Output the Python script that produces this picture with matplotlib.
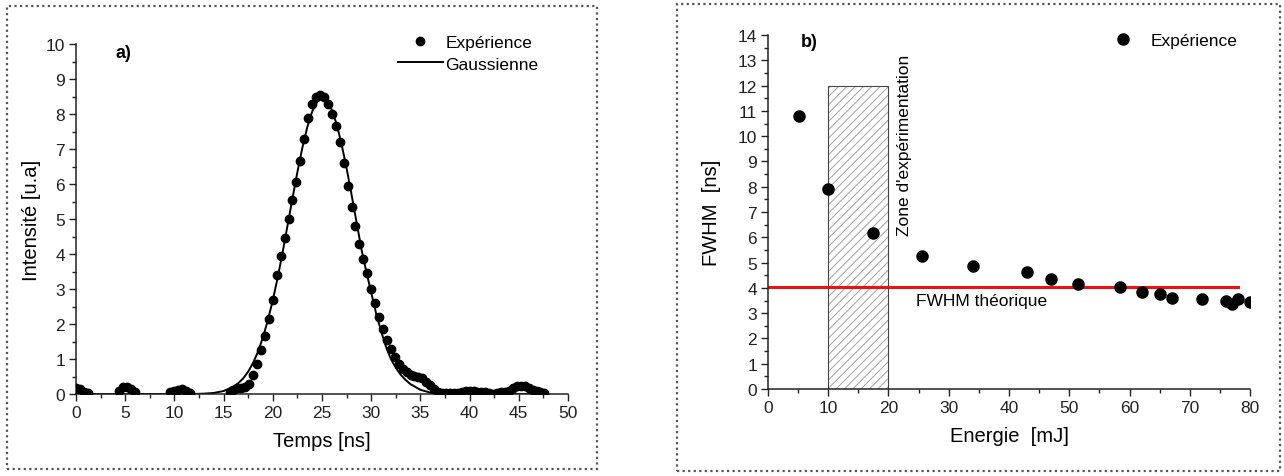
import numpy as np
import matplotlib
matplotlib.use("Agg")
import matplotlib.pyplot as plt
from matplotlib.patches import Rectangle

plt.rcParams['font.family'] = ['Liberation Sans', 'DejaVu Sans']
plt.rcParams['hatch.linewidth'] = 0.7

# --- panel a) : pulse shape ---
t_exp = [0.0, 0.4, 0.8, 1.2,
         4.4, 4.8, 5.2, 5.6, 6.0,
         9.6, 10.0, 10.4, 10.8, 11.2, 11.6,
         15.6, 16.0, 16.4, 16.8, 17.2, 17.6, 18.0, 18.4, 18.8, 19.2, 19.6,
         20.0, 20.4, 20.8, 21.2, 21.6, 22.0, 22.4, 22.8, 23.2, 23.6,
         24.0, 24.4, 24.8, 25.2, 25.6, 26.0, 26.4, 26.8, 27.2, 27.6,
         28.0, 28.4, 28.8, 29.2, 29.6, 30.0, 30.4, 30.8, 31.2, 31.6,
         32.0, 32.4, 32.8, 33.2, 33.6, 34.0, 34.4, 34.8, 35.2, 35.6,
         36.0, 36.4, 36.8, 37.2, 37.6, 38.0, 38.4, 38.8, 39.2, 39.6,
         40.0, 40.4, 40.8, 41.2, 41.6, 42.0, 42.4, 42.8, 43.2, 43.6,
         44.0, 44.4, 44.8, 45.2, 45.6, 46.0, 46.4, 46.8, 47.2, 47.6]
i_exp = [0.18, 0.15, 0.07, 0.02,
         0.1, 0.2, 0.2, 0.15, 0.07,
         0.05, 0.1, 0.12, 0.13, 0.08, 0.02,
         0.05, 0.12, 0.17, 0.18, 0.2, 0.3, 0.55, 0.85, 1.25, 1.65, 2.15,
         2.7, 3.4, 3.95, 4.45, 5.0, 5.55, 6.05, 6.65, 7.3, 7.9,
         8.3, 8.5, 8.55, 8.5, 8.3, 8.0, 7.65, 7.2, 6.6, 5.95,
         5.35, 4.8, 4.3, 3.85, 3.45, 3.0, 2.6, 2.2, 1.85, 1.55,
         1.3, 1.05, 0.85, 0.72, 0.62, 0.55, 0.52, 0.5, 0.45, 0.35,
         0.25, 0.15, 0.07, 0.03, 0.02, 0.02, 0.03, 0.03, 0.05, 0.08,
         0.1, 0.08, 0.05, 0.06, 0.05, 0.03, 0.01, 0.04, 0.05, 0.05,
         0.1, 0.18, 0.23, 0.24, 0.22, 0.17, 0.12, 0.1, 0.06, 0.04]

t_fit = [0, 12, 13, 14, 15, 16, 16.5, 17, 17.5, 18, 18.5, 19, 19.5,
         20, 20.5, 21, 21.5, 22, 22.5, 23, 23.5, 24, 24.5, 25,
         25.5, 26, 26.5, 27, 27.5, 28, 28.5, 29, 29.5, 30, 30.5,
         31, 31.5, 32, 32.5, 33, 33.5, 34, 35, 36, 37, 48]
i_fit = [0, 0, 0.01, 0.03, 0.085, 0.21, 0.31, 0.45, 0.64, 0.89, 1.21, 1.62, 2.11,
         2.68, 3.33, 4.05, 4.82, 5.59, 6.34, 7.03, 7.62, 8.07, 8.35, 8.45,
         8.38, 8.12, 7.7, 7.12, 6.45, 5.7, 4.93, 4.15, 3.5, 2.9, 2.3,
         1.8, 1.35, 1.0, 0.75, 0.55, 0.4, 0.28, 0.12, 0.04, 0.01, 0]

# --- panel b) : FWHM vs energy ---
energie = [5.2, 10.0, 17.5, 25.5, 34.0, 43.0, 47.0, 51.5, 58.5,
           62.0, 65.0, 67.0, 72.0, 76.0, 77.0, 78.0, 80.0]
fwhm = [10.8, 7.9, 6.15, 5.27, 4.85, 4.62, 4.35, 4.15, 4.02,
        3.82, 3.75, 3.6, 3.57, 3.5, 3.35, 3.55, 3.45]
fwhm_theo = 4.05
zone = (10, 20, 12)

fig = plt.figure(figsize=(12.84, 4.77), dpi=100)

# dotted frames around each panel
for (x0, y0, x1, y1) in [(7, 7, 597, 470), (677, 5, 1280, 472)]:
    fig.patches.append(Rectangle((x0 / 1284, 1 - y1 / 477), (x1 - x0) / 1284, (y1 - y0) / 477,
                                 transform=fig.transFigure, fill=False, ls=(0, (1, 1.5)),
                                 lw=1.6, ec='#555555'))


def style(ax):
    ax.spines['top'].set_visible(False)
    ax.spines['right'].set_visible(False)
    for s in ('left', 'bottom'):
        ax.spines[s].set_linewidth(1.1)
        ax.spines[s].set_color('#222222')
    ax.tick_params(direction='out', which='major', length=5, width=1.0, labelsize=12.5, pad=3,
                   colors='#222222')
    ax.tick_params(direction='out', which='minor', length=3, width=1.0, colors='#222222')


ax1 = fig.add_axes([76 / 1284, 82 / 477, 492 / 1284, 350 / 477])
ax1.plot(t_fit, i_fit, color='black', lw=1.4, label='Gaussienne', zorder=2)
ax1.plot(t_exp, i_exp, 'o', color='black', ms=6, label='Expérience', zorder=3, clip_on=True)
ax1.set_xlim(0, 50)
ax1.set_ylim(0, 10)
ax1.set_xticks(np.arange(0, 51, 5))
ax1.set_xticks(np.arange(0, 50, 2.5), minor=True)
ax1.set_yticks(np.arange(0, 11, 1))
ax1.set_yticks(np.arange(0, 10, 0.5), minor=True)
style(ax1)
ax1.set_xlabel('Temps [ns]', fontsize=14.5, labelpad=8)
ax1.set_ylabel('Intensité [u.a]', fontsize=14.5, labelpad=3)
ax1.text(4.0, 9.75, 'a)', fontsize=13, fontweight='bold', va='center')
h, l = ax1.get_legend_handles_labels()
ax1.legend([h[1], h[0]], [l[1], l[0]], loc='upper right', bbox_to_anchor=(0.965, 1.06),
           frameon=False, fontsize=12.5, handlelength=2.6, handletextpad=0.15,
           labelspacing=0.35, borderpad=0.2)

ax2 = fig.add_axes([768 / 1284, 87 / 477, 482 / 1284, 354 / 477])
ax2.add_patch(Rectangle((zone[0], 0), zone[1] - zone[0], zone[2], fill=False,
                        hatch='////', ec='#a0a0a0', lw=0, zorder=1))
ax2.add_patch(Rectangle((zone[0], 0), zone[1] - zone[0], zone[2], fill=False,
                        ec='#444444', lw=0.8, zorder=1))
ax2.plot([0, 78], [fwhm_theo, fwhm_theo], color='#ee1111', lw=2.2, zorder=2)
ax2.plot(energie, fwhm, 'o', color='black', ms=8, label='Expérience', zorder=3, clip_on=True)
ax2.set_xlim(0, 80)
ax2.set_ylim(0, 14)
ax2.set_xticks(np.arange(0, 81, 10))
ax2.set_xticks(np.arange(0, 80, 5), minor=True)
ax2.set_yticks(np.arange(0, 15, 1))
ax2.set_yticks(np.arange(0, 14, 0.5), minor=True)
style(ax2)
ax2.set_xlabel('Energie  [mJ]', fontsize=14.5, labelpad=8)
ax2.set_ylabel('FWHM  [ns]', fontsize=14.5, labelpad=12)
ax2.text(5.5, 13.75, 'b)', fontsize=13, fontweight='bold', va='center')
ax2.text(22.7, 13.25, "Zone d'expérimentation", rotation=90, fontsize=12.5,
         ha='center', va='top')
ax2.text(35.5, 3.5, 'FWHM théorique', fontsize=12.5, ha='center', va='center')
ax2.legend(loc='upper right', bbox_to_anchor=(1.0, 1.04), frameon=False, fontsize=12.5,
           handletextpad=0.6, borderpad=0.2)

fig.savefig('out.png', dpi=100)
